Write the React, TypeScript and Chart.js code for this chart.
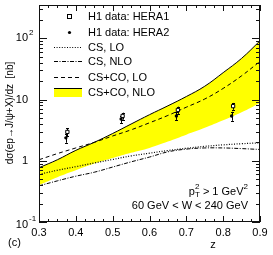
import React, { useEffect, useRef } from "react";
import { Chart, registerables } from "chart.js";
Chart.register(...registerables);

// ---- data ----
const zGrid = [0.3, 0.35, 0.4, 0.45, 0.5, 0.55, 0.6, 0.65, 0.7, 0.75, 0.8, 0.85, 0.9];
const csCoNloUpper = [0.77, 1.04, 1.48, 2.0, 2.79, 3.98, 5.66, 7.9, 11.2, 16.5, 27.5, 47, 91];
const csCoNloLower = [0.4, 0.54, 0.7, 0.9, 1.11, 1.35, 1.62, 2.06, 2.67, 3.45, 4.58, 6.2, 8.8];
const csCoLo = [1.04, 1.31, 1.62, 2.0, 2.54, 3.2, 4.17, 5.5, 7.5, 10.2, 15.2, 24.4, 42];
const csLo = [0.6, 0.7, 0.8, 0.92, 1.05, 1.2, 1.33, 1.47, 1.6, 1.72, 1.82, 1.9, 1.96];
const csNlo = [0.39, 0.47, 0.56, 0.65, 0.79, 0.96, 1.15, 1.4, 1.55, 1.62, 1.62, 1.58, 1.53];

const hera1Z = [0.377, 0.527, 0.677, 0.827];
const hera1Val = [2.96, 5.4, 6.75, 7.8];
const hera1Err = [0.45, 0.7, 0.9, 1.0];
const hera2Z = [0.373, 0.523, 0.673, 0.823];
const hera2Val = [2.37, 4.8, 5.4, 5.4];
const hera2Err = [0.4, 0.65, 0.75, 0.9];

const xTickValues = [0.3, 0.4, 0.5, 0.6, 0.7, 0.8, 0.9];
const xTickLabels = ["0.3", "0.4", "0.5", "0.6", "0.7", "0.8", "0.9"];
const yTickValues = [0.1, 1, 10, 100];
const yTickBase = ["10", "1", "10", "10"];
const yTickExp = ["-1", "", "", "2"];

const legendLabels = ["H1 data: HERA1", "H1 data: HERA2", "CS, LO", "CS, NLO", "CS+CO, LO", "CS+CO, NLO"];
const xTitle = "z";
const yTitle = "dσ(ep→J/ψ+X)/dz  [nb]";
const panelLabel = "(c)";
const cutLine2 = "60 GeV < W < 240 GeV";

// ---- styles ----
const FONT = '"Liberation Sans", Arial, Helvetica, sans-serif';
const DASH_LO = [1, 1.6];
const DASH_NLO = [4, 1.5, 1, 1.5];
const DASH_COLO = [4, 3];
const YELLOW = "#ffff00";

function pts(xs: number[], ys: number[]) {
  return xs.map((x, i) => ({ x, y: ys[i] }));
}

const decorPlugin = {
  id: "decor",
  beforeDatasetDraw(chart: any, args: any) {
    const idx = args.index;
    if (idx !== 5 && idx !== 6) return;
    const zs = idx === 5 ? hera1Z : hera2Z;
    const vs = idx === 5 ? hera1Val : hera2Val;
    const es = idx === 5 ? hera1Err : hera2Err;
    const { ctx, scales } = chart;
    ctx.save();
    ctx.strokeStyle = "#000";
    ctx.lineWidth = 1;
    for (let i = 0; i < zs.length; i++) {
      const px = Math.round(scales.x.getPixelForValue(zs[i])) + 0.5;
      const y1 = scales.y.getPixelForValue(vs[i] + es[i]);
      const y2 = scales.y.getPixelForValue(vs[i] - es[i]);
      ctx.beginPath();
      ctx.moveTo(px, y1);
      ctx.lineTo(px, y2);
      ctx.moveTo(px - 1.5, Math.round(y1) + 0.5);
      ctx.lineTo(px + 1.5, Math.round(y1) + 0.5);
      ctx.moveTo(px - 1.5, Math.round(y2) + 0.5);
      ctx.lineTo(px + 1.5, Math.round(y2) + 0.5);
      ctx.stroke();
    }
    ctx.restore();
  },
  afterDraw(chart: any) {
    const { ctx, chartArea: a, scales } = chart;
    const xs = scales.x;
    const ys = scales.y;
    ctx.save();
    ctx.strokeStyle = "#111";
    ctx.lineWidth = 1;
    ctx.strokeRect(a.left + 0.5, a.top + 0.5, a.right - a.left - 1, a.bottom - a.top - 1);
    ctx.beginPath();
    for (const t of xs.ticks) {
      const v = t.value;
      if (v < xs.min - 1e-9 || v > xs.max + 1e-9) continue;
      const px = Math.round(xs.getPixelForValue(v)) + 0.5;
      const major = Math.abs(v * 10 - Math.round(v * 10)) < 1e-6;
      const len = major ? 6 : 3;
      ctx.moveTo(px, a.bottom);
      ctx.lineTo(px, a.bottom - len);
      ctx.moveTo(px, a.top);
      ctx.lineTo(px, a.top + len);
    }
    for (const t of ys.ticks) {
      const v = t.value;
      if (v < ys.min * 0.999 || v > ys.max * 1.001) continue;
      const e = Math.floor(Math.log10(v) + 1e-9);
      const m = v / Math.pow(10, e);
      if (Math.abs(m - Math.round(m)) > 1e-6) continue;
      const major = Math.abs(m - 1) < 1e-6;
      const len = major ? 8 : 4;
      const py = Math.round(ys.getPixelForValue(v)) + 0.5;
      ctx.moveTo(a.left, py);
      ctx.lineTo(a.left + len, py);
      ctx.moveTo(a.right, py);
      ctx.lineTo(a.right - len, py);
    }
    ctx.stroke();

    ctx.fillStyle = "#000";
    // x tick labels
    ctx.font = `11px ${FONT}`;
    ctx.textAlign = "center";
    ctx.textBaseline = "middle";
    xTickValues.forEach((v, i) => {
      ctx.fillText(xTickLabels[i], xs.getPixelForValue(v), a.bottom + 11);
    });
    // y tick labels
    yTickValues.forEach((v, i) => {
      const py = ys.getPixelForValue(v);
      const exp = yTickExp[i];
      ctx.font = `11px ${FONT}`;
      ctx.textAlign = "right";
      ctx.textBaseline = "middle";
      const baseRight = 28;
      const yOff = i === 0 ? 3 : 0;
      ctx.fillText(yTickBase[i], baseRight, py + yOff);
      if (exp) {
        ctx.font = `8px ${FONT}`;
        ctx.textAlign = "left";
        ctx.fillText(exp, baseRight + 1, py + yOff - 6);
      }
    });
    // axis titles
    ctx.font = `11px ${FONT}`;
    ctx.textAlign = "center";
    ctx.fillText(xTitle, 213, 245);
    ctx.textAlign = "left";
    ctx.fillText(panelLabel, 8, 243);
    ctx.save();
    ctx.translate(10, 113);
    ctx.rotate(-Math.PI / 2);
    ctx.font = `10px ${FONT}`;
    ctx.textAlign = "center";
    ctx.fillText(yTitle, 0, 0);
    ctx.restore();

    // legend
    const rows = [16, 32, 47, 61, 77, 92];
    const lx0 = 54, lx1 = 82, tx = 88, mx = 69;
    ctx.font = `11px ${FONT}`;
    ctx.textAlign = "left";
    ctx.textBaseline = "middle";
    legendLabels.forEach((lab, i) => ctx.fillText(lab, tx, rows[i] + 0.5));
    // markers
    ctx.strokeStyle = "#000";
    ctx.lineWidth = 1;
    ctx.fillStyle = "#fff";
    ctx.fillRect(mx - 2, rows[0] - 2, 4, 4);
    ctx.strokeRect(mx - 1.5, rows[0] - 1.5, 4, 4);
    ctx.fillStyle = "#000";
    ctx.beginPath();
    ctx.arc(mx + 0.5, rows[1] + 0.5, 1.6, 0, Math.PI * 2);
    ctx.fill();
    const legLine = (y: number, dash: number[]) => {
      ctx.setLineDash(dash);
      ctx.beginPath();
      ctx.moveTo(lx0, y + 0.5);
      ctx.lineTo(lx1, y + 0.5);
      ctx.stroke();
    };
    legLine(rows[2], DASH_LO);
    legLine(rows[3], DASH_NLO);
    legLine(rows[4], DASH_COLO);
    ctx.setLineDash([]);
    ctx.fillStyle = YELLOW;
    ctx.fillRect(lx0, rows[5] - 4, lx1 - lx0, 9);
    ctx.beginPath();
    ctx.moveTo(lx0, rows[5] - 4 + 0.5);
    ctx.lineTo(lx1, rows[5] - 4 + 0.5);
    ctx.stroke();

    // cut labels
    ctx.fillStyle = "#000";
    const right = 248;
    const y1 = 192;
    ctx.font = `11px ${FONT}`;
    const wP = ctx.measureText("p").width;
    const wRest = ctx.measureText(" > 1 GeV").width;
    ctx.font = `8px ${FONT}`;
    const wT = Math.max(ctx.measureText("T").width, ctx.measureText("2").width);
    const w2 = ctx.measureText("2").width;
    let x = right - (wP + wT + wRest + w2);
    ctx.textAlign = "left";
    ctx.font = `11px ${FONT}`;
    ctx.fillText("p", x, y1);
    x += wP;
    ctx.font = `8px ${FONT}`;
    ctx.fillText("T", x, y1 + 3);
    ctx.fillText("2", x, y1 - 5);
    x += wT;
    ctx.font = `11px ${FONT}`;
    ctx.fillText(" > 1 GeV", x, y1);
    x += wRest;
    ctx.font = `8px ${FONT}`;
    ctx.fillText("2", x, y1 - 5);
    ctx.font = `11px ${FONT}`;
    ctx.textAlign = "right";
    ctx.fillText(cutLine2, right, 206);
    ctx.restore();
  },
};

export default function App() {
  const ref = useRef<HTMLCanvasElement>(null);
  useEffect(() => {
    if (!ref.current) return;
    const lineBase = { pointRadius: 0, borderWidth: 1, fill: false, tension: 0.4, borderColor: "#000" };
    const chart = new Chart(ref.current, {
      type: "line",
      data: {
        datasets: [
          { ...lineBase, label: "lower", data: pts(zGrid, csCoNloLower), borderWidth: 0, borderColor: "rgba(0,0,0,0)", order: 5 } as any,
          { ...lineBase, label: legendLabels[5], data: pts(zGrid, csCoNloUpper), fill: "-1", backgroundColor: YELLOW, order: 5 } as any,
          { ...lineBase, label: legendLabels[4], data: pts(zGrid, csCoLo), borderDash: DASH_COLO, order: 1 },
          { ...lineBase, label: legendLabels[2], data: pts(zGrid, csLo), borderDash: DASH_LO, borderWidth: 1.2, order: 1 },
          { ...lineBase, label: legendLabels[3], data: pts(zGrid, csNlo), borderDash: DASH_NLO, order: 1 },
          { label: legendLabels[0], data: pts(hera1Z, hera1Val), showLine: false, pointStyle: "rect", pointRadius: 2.3, borderWidth: 1, borderColor: "#000", backgroundColor: "#fff", order: 0 } as any,
          { label: legendLabels[1], data: pts(hera2Z, hera2Val), showLine: false, pointStyle: "circle", pointRadius: 1.7, borderWidth: 0, borderColor: "#000", backgroundColor: "#000", order: 0 } as any,
        ],
      },
      options: {
        animation: false,
        responsive: false,
        devicePixelRatio: 1,
        layout: { padding: { left: 0, top: 4, right: 13, bottom: 0 } },
        plugins: { legend: { display: false }, tooltip: { enabled: false } },
        events: [],
        scales: {
          x: {
            type: "linear",
            min: 0.3,
            max: 0.9,
            ticks: { display: false, stepSize: 0.025 },
            grid: { display: false },
            border: { display: false },
            afterFit: (s: any) => { s.height = 33; },
          },
          y: {
            type: "logarithmic",
            min: 0.1,
            max: 350,
            ticks: { display: false },
            grid: { display: false },
            border: { display: false },
            afterFit: (s: any) => { s.width = 39; },
          },
        },
      } as any,
      plugins: [decorPlugin],
    });
    return () => chart.destroy();
  }, []);
  return (
    <div style={{ position: "fixed", left: 0, top: 0, width: 273, height: 255, background: "#fff" }}>
      <canvas ref={ref} width={273} height={255} style={{ width: 273, height: 255, display: "block" }} />
    </div>
  );
}
